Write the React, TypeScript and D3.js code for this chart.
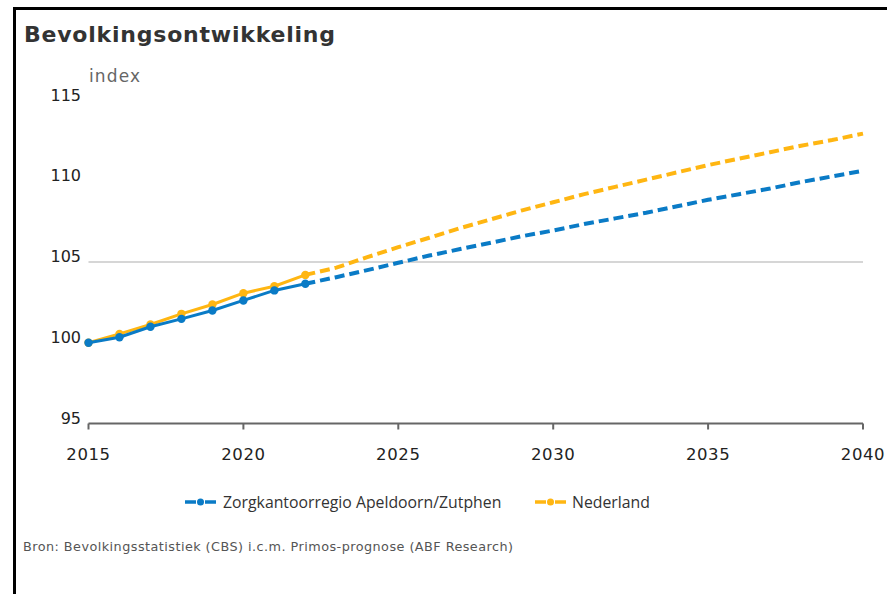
import React from "react";
import * as d3 from "d3";

// Population index (2015 = 100); observed through 2022, forecast afterwards
const years = [2015, 2016, 2017, 2018, 2019, 2020, 2021, 2022, 2023, 2024, 2025, 2026, 2027, 2028, 2029, 2030, 2031, 2032, 2033, 2034, 2035, 2036, 2037, 2038, 2039, 2040];
const regioValues = [100, 100.34, 100.99, 101.48, 102.0, 102.62, 103.24, 103.65, 104.06, 104.5, 104.95, 105.4, 105.8, 106.2, 106.6, 106.95, 107.35, 107.7, 108.05, 108.45, 108.85, 109.2, 109.55, 109.95, 110.3, 110.65];
const nederlandValues = [100, 100.55, 101.13, 101.79, 102.37, 103.07, 103.5, 104.2, 104.65, 105.3, 105.92, 106.5, 107.1, 107.65, 108.2, 108.7, 109.2, 109.65, 110.1, 110.55, 111.0, 111.4, 111.8, 112.2, 112.55, 112.95];
const lastObservedYear = 2022;

const seriesNames = ["Zorgkantoorregio Apeldoorn/Zutphen", "Nederland"];
const seriesColors = ["#0a7bc6", "#ffb612"];
const yTicks = [95, 100, 105, 110, 115];
const xTicks = [2015, 2020, 2025, 2030, 2035, 2040];
const gridValues = [105];

const W = 887;
const H = 594;

const verdanaLike = { fontFamily: "'DejaVu Sans', Verdana, sans-serif" };
const legendFont = { fontFamily: "'Open Sans', sans-serif" };

export default function App() {
  const x = d3.scaleLinear().domain([2015, 2040]).range([88.5, 863]);
  const y = d3.scaleLinear().domain([95, 115]).range([423.5, 100.5]);

  const series = [regioValues, nederlandValues].map((vals, i) => {
    const pts = years.map((yr, j) => ({ yr, v: vals[j] }));
    return {
      name: seriesNames[i],
      color: seriesColors[i],
      observed: pts.filter((p) => p.yr <= lastObservedYear),
      forecast: pts.filter((p) => p.yr >= lastObservedYear),
    };
  });
  // national line underneath the regional one
  const drawOrder = [series[1], series[0]];

  const line = d3
    .line<{ yr: number; v: number }>()
    .x((d) => x(d.yr))
    .y((d) => y(d.v));

  const axisY = y(95);
  const legendItems = [
    { x: 185, textX: 223 },
    { x: 535, textX: 572 },
  ];

  return (
    <svg width={W} height={H} style={{ position: "absolute", left: 0, top: 0, background: "#fff" }}>
      <rect x={0} y={0} width={W} height={H} fill="#fff" />
      {/* frame */}
      <rect x={14.5} y={8.5} width={W + 20} height={H + 20} fill="none" stroke="#000" strokeWidth={3} />

      <text x={24} y={42} style={verdanaLike} fontWeight="bold" fontSize={22} fill="#333" textLength={311} lengthAdjust="spacing">
        Bevolkingsontwikkeling
      </text>

      <text x={89} y={82} style={verdanaLike} fontSize={17} fill="#666" textLength={51} lengthAdjust="spacing">
        index
      </text>

      {/* gridlines */}
      {gridValues.map((g) => (
        <line key={g} x1={x(2015)} x2={x(2040)} y1={y(g)} y2={y(g)} stroke="#c8c8c8" strokeWidth={1.5} />
      ))}

      {/* y labels */}
      {yTicks.map((t) => (
        <text key={t} x={81} y={y(t) - 5.5} dy="0.35em" textAnchor="end" style={verdanaLike} fontSize={16} fill="#222">
          {t}
        </text>
      ))}

      {/* x axis */}
      <line x1={x(2015)} x2={x(2040)} y1={axisY} y2={axisY} stroke="#666" strokeWidth={2} />
      {xTicks.map((t) => (
        <g key={t}>
          <line x1={x(t)} x2={x(t)} y1={axisY} y2={axisY + 6} stroke="#666" strokeWidth={2} />
          <text x={x(t)} y={axisY + 36} textAnchor="middle" style={verdanaLike} fontSize={16.5} fill="#222" letterSpacing={0.6}>
            {t}
          </text>
        </g>
      ))}

      {/* series */}
      {drawOrder.map((s) => (
        <g key={s.name}>
          <path d={line(s.forecast) || ""} fill="none" stroke={s.color} strokeWidth={4} strokeDasharray="10,5" />
          <path d={line(s.observed) || ""} fill="none" stroke={s.color} strokeWidth={3} strokeLinejoin="round" />
          {s.observed.map((p) => (
            <circle key={p.yr} cx={x(p.yr)} cy={y(p.v)} r={4.2} fill={s.color} />
          ))}
        </g>
      ))}

      {/* legend */}
      {series.map((s, i) => (
        <g key={s.name}>
          <line x1={legendItems[i].x} x2={legendItems[i].x + 31} y1={502} y2={502} stroke={s.color} strokeWidth={3.5} strokeDasharray="11,3,3,3,11" />
          <circle cx={legendItems[i].x + 15.5} cy={502} r={3.5} fill={s.color} />
          <text x={legendItems[i].textX} y={502} dy="0.35em" style={legendFont} fontSize={15.8} fill="#333">
            {s.name}
          </text>
        </g>
      ))}

      <text x={23} y={551} style={verdanaLike} fontSize={12.8} fill="#555" textLength={490} lengthAdjust="spacing">
        Bron: Bevolkingsstatistiek (CBS) i.c.m. Primos-prognose (ABF Research)
      </text>
    </svg>
  );
}
